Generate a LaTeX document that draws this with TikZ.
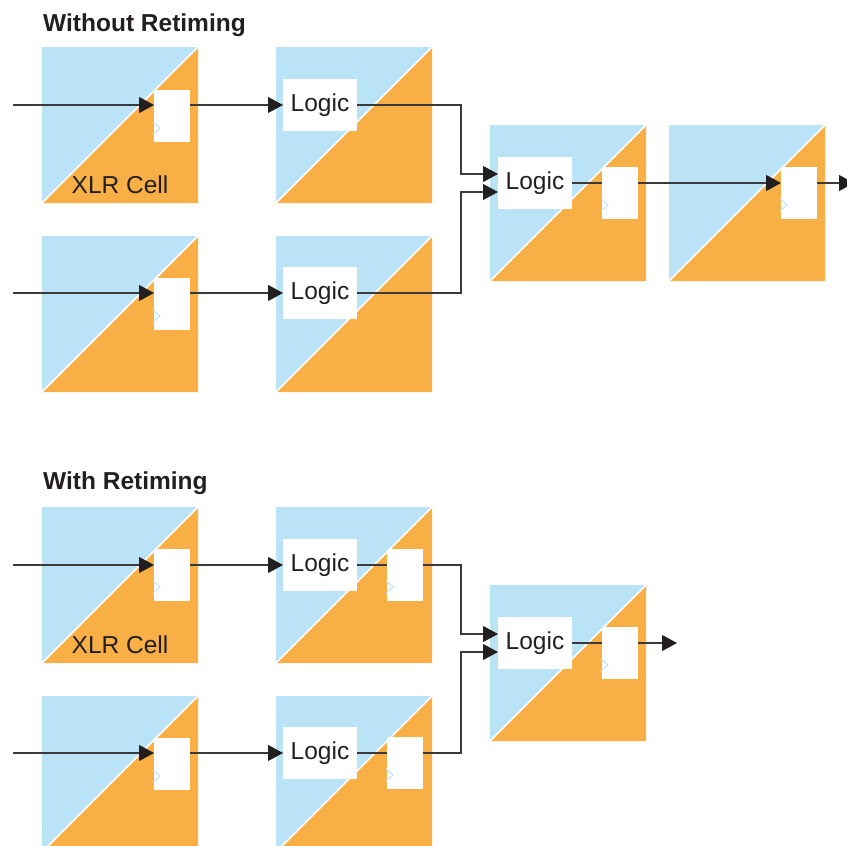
\documentclass[tikz,border=0pt]{standalone}
\usepackage{fontspec}
\setmainfont{Liberation Sans}
\usetikzlibrary{arrows.meta}

\definecolor{cellblue}{HTML}{BAE3F8}
\definecolor{cellorange}{HTML}{F8AF45}
\definecolor{ink}{HTML}{231F20}
\definecolor{wire}{HTML}{3A3A3A}

\pgfdeclarelayer{cells}
\pgfdeclarelayer{wires}
\pgfsetlayers{cells,wires,main}

% one XLR cell: blue upper-left half, orange lower-right half, white diagonal
\newcommand\xlrcell[2]{%
  \fill[cellblue] (#1,#2) rectangle ++(156,156);
  \fill[cellorange] (#1,#2+156) -- ++(156,-156) -- ++(0,156) -- cycle;
  \draw[white, line width=1.6] (#1,#2+156) -- ++(156,-156);
}

\tikzset{
  reg/.style={fill=white, minimum width=36, minimum height=52, inner sep=0, outer sep=0},
  logicbox/.style={fill=white, minimum width=74, minimum height=52, inner sep=0, outer sep=0,
    text=ink, font=\fontsize{24.5}{28}\selectfont},
  celllabel/.style={text=ink, font=\fontsize{24.5}{28}\selectfont, anchor=base, inner sep=0},
  title/.style={text=ink, font=\bfseries\fontsize{24.5}{28}\selectfont, anchor=base west, inner sep=0},
  sig/.style={draw=wire, line width=1.1},
  tip/.style={-{Triangle[length=15pt,width=16pt,color=ink]}},
  clock/.style={draw=cellblue, line width=1},
}

\begin{document}
\begin{tikzpicture}[x=1pt, y=-1pt]
\useasboundingbox (0,0) rectangle (847,846);
\clip (0,0) rectangle (847,846);

% ---------- cell backgrounds ----------
\begin{pgfonlayer}{cells}
  \xlrcell{42}{47}
  \xlrcell{42}{236}
  \xlrcell{276}{47}
  \xlrcell{276}{236}
  \xlrcell{490}{125}
  \xlrcell{669}{125}
  \xlrcell{42}{507}
  \xlrcell{42}{696}
  \xlrcell{276}{507}
  \xlrcell{276}{696}
  \xlrcell{490}{585}
\end{pgfonlayer}

% ---------- titles and labels ----------
\node[title] (t1) at (43,31) {Without Retiming};
\node[title] (t2) at (43,489) {With Retiming};
\node[celllabel] (x1) at (120,193) {XLR Cell};
\node[celllabel] (x2) at (120,653) {XLR Cell};

% ---------- without retiming ----------
\node[reg] (rA1) at (172,116) {};
\node[reg] (rA2) at (172,304) {};
\node[logicbox] (lB1) at (320,105) {Logic};
\node[logicbox] (lB2) at (320,293) {Logic};
\node[logicbox] (lC) at (535,183) {Logic};
\node[reg] (rC) at (620,193) {};
\node[reg] (rD) at (799,193) {};

\coordinate (inA1) at (13,105);
\coordinate (inA2) at (13,293);
\coordinate (jT) at (461,0);
\coordinate (outT) at (854,183);

% ---------- with retiming ----------
\node[reg] (sA1) at (172,575) {};
\node[reg] (sA2) at (172,764) {};
\node[logicbox] (mB1) at (320,565) {Logic};
\node[logicbox] (mB2) at (320,753) {Logic};
\node[reg] (sB1) at (405,575) {};
\node[reg] (sB2) at (405,763) {};
\node[logicbox] (mC) at (535,643) {Logic};
\node[reg] (sC) at (620,653) {};

\coordinate (inS1) at (13,565);
\coordinate (inS2) at (13,753);
\coordinate (outB) at (677,643);

% clock markers on every register
\foreach \r in {rA1,rA2,rC,rD,sA1,sA2,sB1,sB2,sC}
  \draw[clock] ([shift={(-1,32)}]\r.north west) -- ++(7,6) -- ++(-7,6);

% ---------- wires ----------
\begin{pgfonlayer}{wires}
  % without retiming
  \draw[sig,tip] (inA1) -- (inA1 -| rA1.west);
  \draw[sig,tip] (inA2) -- (inA2 -| rA2.west);
  \draw[sig,tip] (rA1.east |- lB1.west) -- (lB1.west);
  \draw[sig,tip] (rA2.east |- lB2.west) -- (lB2.west);
  \draw[sig,tip] (lB1.east) -- (lB1.east -| jT) |- ([yshift=9pt]lC.west);
  \draw[sig,tip] (lB2.east) -- (lB2.east -| jT) |- ([yshift=-9pt]lC.west);
  \draw[sig,tip] (lC.east) -- (lC.east -| rD.west);
  \draw[sig,tip] (lC.east -| rD.east) -- (outT);
  % with retiming
  \draw[sig,tip] (inS1) -- (inS1 -| sA1.west);
  \draw[sig,tip] (inS2) -- (inS2 -| sA2.west);
  \draw[sig,tip] (sA1.east |- mB1.west) -- (mB1.west);
  \draw[sig,tip] (sA2.east |- mB2.west) -- (mB2.west);
  \draw[sig,tip] (mB1.east) -- (mB1.east -| jT) |- ([yshift=9pt]mC.west);
  \draw[sig,tip] (mB2.east) -- (mB2.east -| jT) |- ([yshift=-9pt]mC.west);
  \draw[sig,tip] (mC.east) -- (outB);
\end{pgfonlayer}
\end{tikzpicture}
\end{document}
